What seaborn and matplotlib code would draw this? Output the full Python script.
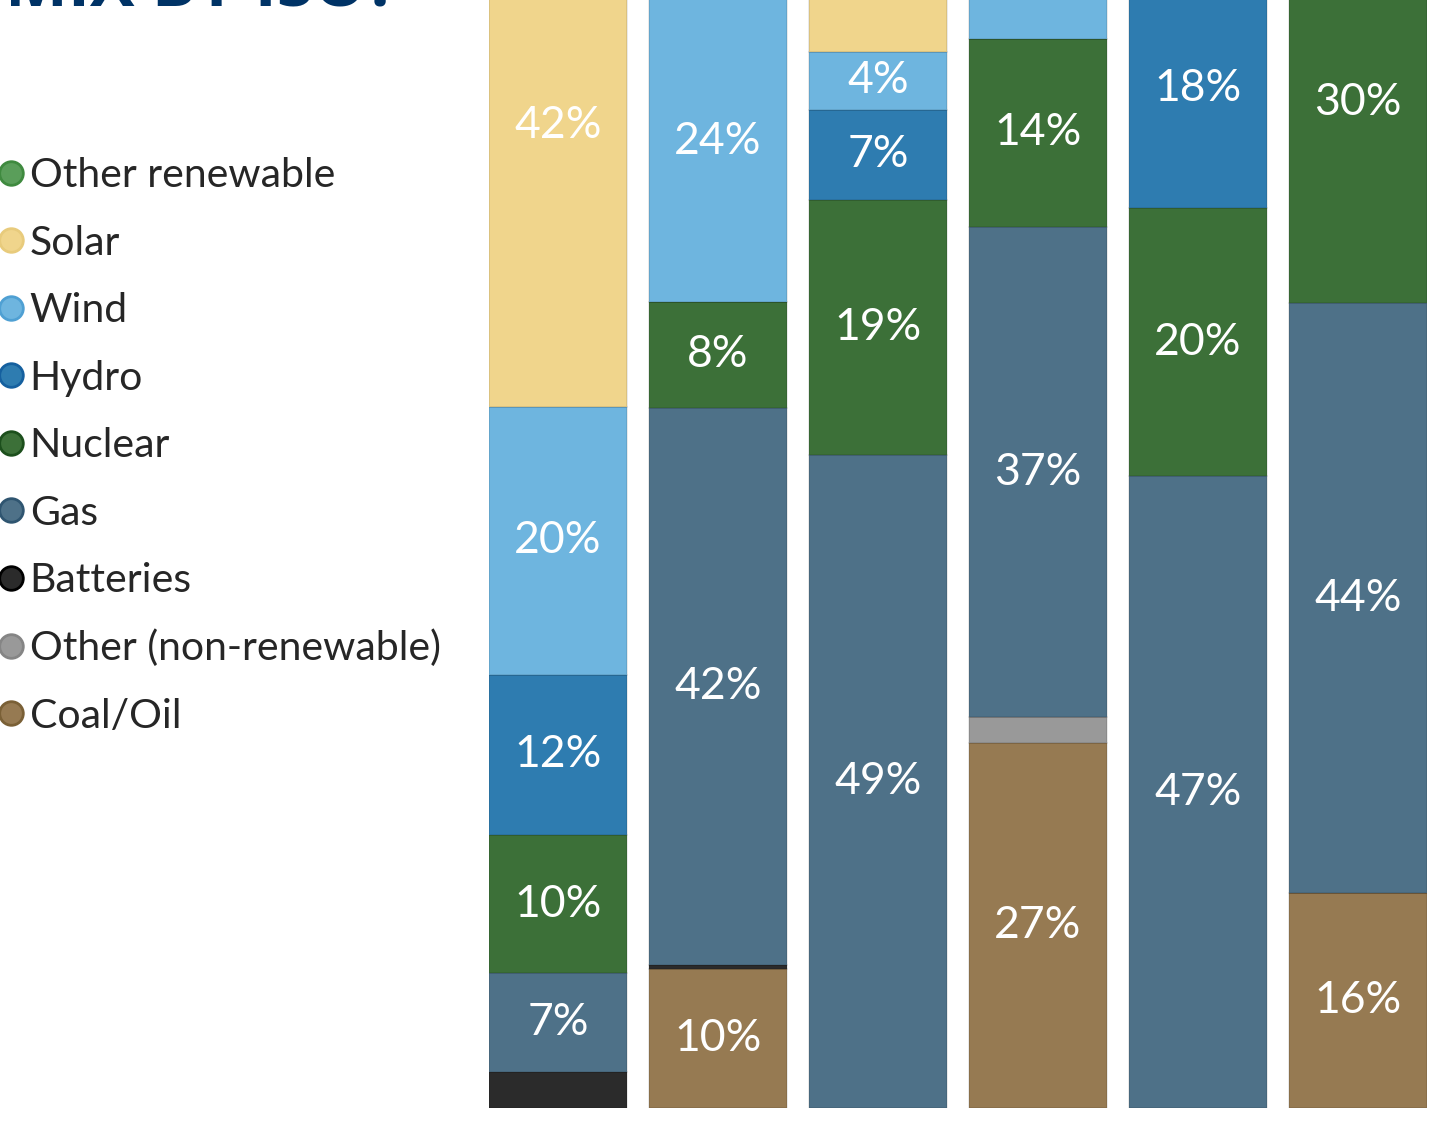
import matplotlib
matplotlib.use("Agg")
import matplotlib.pyplot as plt
from matplotlib.lines import Line2D
import seaborn as sns
import numpy as np

# ISO regions (bar order, left to right)
isos = ["CAISO", "ERCOT", "ISO-NE", "MISO", "NYISO", "PJM"]

# generation share (%) per source, one value per ISO; stacked bottom -> top
coal_oil      = [0.0, 10.4, 0.0, 27.4, 0.0, 16.1]
other_nonren  = [0.0, 0.0, 0.0, 1.9, 0.0, 0.0]
batteries     = [2.7, 0.3, 0.0, 0.0, 0.0, 0.0]
gas           = [7.4, 41.8, 49.0, 36.8, 47.4, 44.3]
nuclear       = [10.4, 8.0, 19.1, 14.1, 20.1, 30.0]
hydro         = [12.0, 0.0, 6.8, 0.0, 18.0, 1.5]
wind          = [20.1, 24.0, 4.3, 15.0, 4.0, 4.0]
solar         = [42.2, 14.5, 10.0, 2.5, 3.0, 3.0]
other_ren     = [5.2, 1.0, 10.8, 2.3, 7.5, 1.1]

sources = ["Coal/Oil", "Other (non-renewable)", "Batteries", "Gas", "Nuclear",
           "Hydro", "Wind", "Solar", "Other renewable"]
series = [coal_oil, other_nonren, batteries, gas, nuclear, hydro, wind, solar, other_ren]
colors = ["#967A52", "#999999", "#2B2B2B", "#4E7188", "#3C7038",
          "#2E7CB0", "#6EB5DF", "#F0D58C", "#5A9E5A"]
marker_edges = ["#7A6036", "#858585", "#000000", "#2F5570", "#1C4F1C",
                "#15609F", "#4FA0D3", "#E8CB7C", "#3F8A3F"]

sns.set_theme(style="white")
plt.rcParams["font.family"] = ["Lato", "DejaVu Sans"]

fig = plt.figure(figsize=(14.32, 11.24), dpi=100)
W, H = 1432, 1124
# y range 0..100 maps to pixel rows 1108 .. -225 (top of chart is cropped)
ax = fig.add_axes([489 / W, (H - 1108) / H, (1427 - 489) / W, (1108 + 225) / H])

bar_w = 0.8625
bottom = np.zeros(len(isos))
for name, vals, col in zip(sources, series, colors):
    vals = np.array(vals)
    sns.barplot(x=isos, y=vals, bottom=bottom, color=col, saturation=1, width=bar_w,
                edgecolor=(0, 0, 0, 0.10), linewidth=1.2, ax=ax)
    for i, v in enumerate(vals):
        if v >= 3.5:
            ax.text(i, bottom[i] + v / 2, f"{round(v):.0f}%", ha="center", va="center",
                    color="white", fontsize=32)
    bottom += vals

ax.set_xlim(-bar_w / 2, len(isos) - 1 + bar_w / 2)
ax.set_ylim(0, 100)
ax.set_axis_off()

# cropped title at very top
fig.text(5 / W, 1 - 6 / H, "MIX BY ISO?", color="#003366", fontsize=48,
         fontweight="bold", ha="left", va="baseline", family=["Open Sans", "DejaVu Sans"])

# legend, top entry first
handles = [Line2D([], [], marker="o", linestyle="", markersize=17,
                  markerfacecolor=c, markeredgecolor=e, markeredgewidth=2)
           for c, e in zip(colors[::-1], marker_edges[::-1])]
fig.legend(handles, sources[::-1], loc="upper left", bbox_to_anchor=(-1 / W, 1 - 157 / H),
           frameon=False, fontsize=29.5, handlelength=0.6, handletextpad=0.15,
           labelspacing=0.745, borderpad=0, borderaxespad=0)

fig.savefig("out.png", dpi=100)
